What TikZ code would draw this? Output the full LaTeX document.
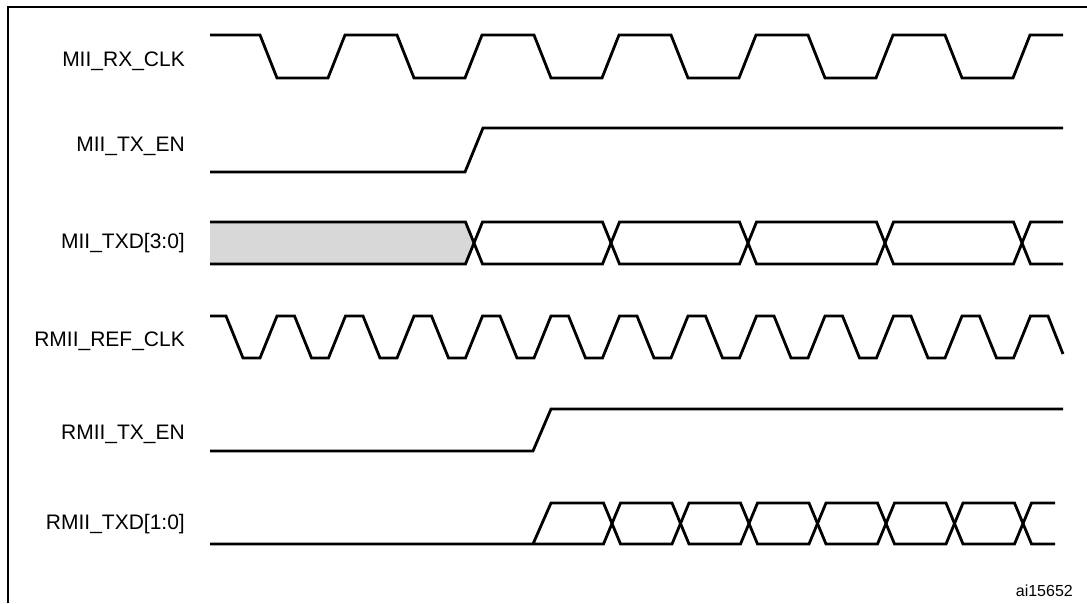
\documentclass[tikz,border=0pt]{standalone}
\usepackage{fontspec}
\setmainfont{Liberation Sans}
\usepackage{tikz}
\usepackage{xcolor}
\usetikzlibrary{positioning,calc}
\definecolor{idle}{RGB}{216,216,216}

\begin{document}
\begin{tikzpicture}[x=1pt, y=-1pt,
    sig/.style={line width=2.8pt, line join=miter},
    lbl/.style={anchor=base east, inner sep=0pt, font=\fontsize{21}{25}\selectfont}]
\useasboundingbox (0,0) rectangle (1087,603);
% Frame
\draw[line width=2pt] (8,603) -- (8,7) -- (1087,7);
% Signal names
\node[lbl] (rxclk) at (185,66) {MII\_RX\_CLK};
\node[lbl] (txen) at (185,151) {MII\_TX\_EN};
\node[lbl] (txd) at (185,248.5) {MII\_TXD[3:0]};
\node[lbl] (refclk) at (185,346) {RMII\_REF\_CLK};
\node[lbl] (rtxen) at (185,439) {RMII\_TX\_EN};
\node[lbl] (rtxd) at (185,529.5) {RMII\_TXD[1:0]};
\node[anchor=base east, inner sep=0pt, font=\fontsize{16}{19}\selectfont] (fig) at (1073,596) {ai15652};
% MII clock
\draw[sig] (210,35) foreach \k in {0,...,5} {
    -- ({260+137*\k},35) -- ({277+137*\k},78) -- ({328+137*\k},78) -- ({345+137*\k},35)
} -- (1063,35);
% MII enable
\draw[sig] (210,172) -- (465,172) -- (483,128) -- (1063,128);
% MII data
\fill[idle] (210,222) -- (465.5,222) -- (474,243) -- (465.5,264) -- (210,264) -- cycle;
\draw[sig] (210,222) -- (465.5,222) -- (474,243) -- (465.5,264) -- (210,264);
\foreach \c in {474,611,748,885}
    \draw[sig] (\c,243) -- ({\c+8.5},222) -- ({\c+128.5},222) -- ({\c+137},243)
        -- ({\c+128.5},264) -- ({\c+8.5},264) -- cycle;
\draw[sig] (1063,222) -- (1030.5,222) -- (1022,243) -- (1030.5,264) -- (1063,264);
% RMII clock
\draw[sig] (210,316) -- (226,316) foreach \k in {0,...,11} {
    -- ({226+68.5*\k},316) -- ({243+68.5*\k},358) -- ({260+68.5*\k},358) -- ({277+68.5*\k},316)
} -- (1048,316) -- (1063,354);
% RMII enable
\draw[sig] (210,451) -- (533,451) -- (551,409) -- (1063,409);
% RMII data
\draw[sig] (210,544) -- (603.5,544) -- (612,523.5) -- (603.5,503) -- (551,503) -- (533,544);
\foreach \c in {612,680.5,749,817.5,886,954.5}
    \draw[sig] (\c,523.5) -- ({\c+8.5},503) -- ({\c+60},503) -- ({\c+68.5},523.5)
        -- ({\c+60},544) -- ({\c+8.5},544) -- cycle;
\draw[sig] (1055,503) -- (1031.5,503) -- (1023,523.5) -- (1031.5,544) -- (1055,544);
\end{tikzpicture}
\end{document}
